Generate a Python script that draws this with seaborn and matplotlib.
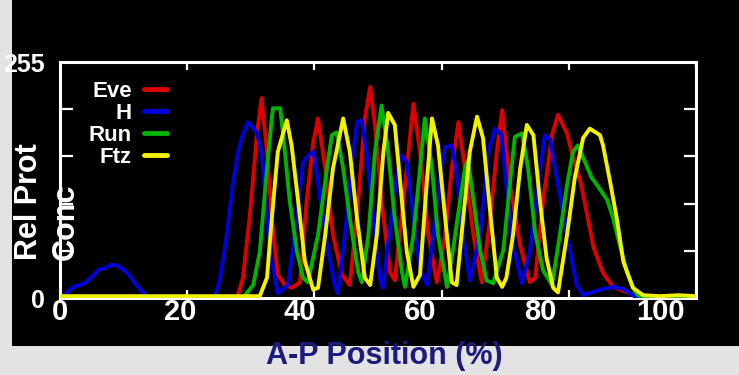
import numpy as np
import pandas as pd
import matplotlib
matplotlib.use('Agg')
import matplotlib.pyplot as plt
from matplotlib.patches import Rectangle
import seaborn as sns

# A-P position (%) and relative protein concentration (0-255)
eve_x = [0, 29.5, 30.5, 31.7, 32.8, 33.6, 34.5, 35.3, 36.3, 37.5, 38.6, 40, 41.1, 42.2, 43,
         44.2, 45.5, 47, 48.3, 49.7, 50.8, 51.7, 52.5, 53.6, 55, 55.8, 57.8, 58.9, 60, 61.4,
         62.8, 64.2, 65.3, 66.4, 67.5, 68.9, 70.3, 71.7, 72.8, 73.7, 75, 76.7, 78.3, 79.2, 80.5,
         82, 83, 84.5, 85.5, 86.7, 87.8, 88.9, 90.5, 92.2, 95, 96.7, 106]
eve_y = [0, 0, 22, 93, 176, 216, 158, 86, 25, 14, 11, 17, 104, 168, 194,
         140, 68, 25, 14, 104, 194, 228, 187, 104, 28, 19, 140, 210, 158, 68,
         17, 68, 140, 190, 140, 68, 17, 86, 158, 203, 122, 57, 17, 22, 104,
         176, 198, 178, 152, 127, 92, 55, 27, 12, 5, 1, 0]

h_x = [0, 0.8, 1.5, 2.5, 3.5, 4.5, 5.5, 6.5, 7.5, 8.5, 9.5, 10.5, 11.5, 12.5, 13.5, 14.5, 15.5,
       25.8, 26.7, 27.8, 28.8, 29.7, 30.3, 31.3, 32.8, 33.6, 35, 36.3, 38, 39.5, 40.5, 41.7,
       42.3, 43.3, 44.5, 45.8, 46.3, 47.8, 48.9, 49.5, 50.3, 51.1, 52.2, 53.3, 53.8, 55.3, 56.1,
       56.9, 57.8, 58.9, 60, 61.2, 62.2, 63.6, 64.2, 65.3, 66.1, 67.2, 68.3, 70, 71.4, 72.5,
       73.6, 74.4, 75.5, 77, 78.3, 79.7, 80.8, 81.7, 82.8, 84.5, 86.1, 87.2, 90, 92.2, 93.8,
       96, 103, 104.5, 106]
h_y = [0, 3, 8, 13, 14, 18, 24, 31, 32, 36, 35, 31, 25, 16, 8, 2, 0,
       0, 22, 68, 122, 158, 173, 190, 179, 158, 50, 5, 14, 86, 147, 156,
       158, 111, 57, 14, 5, 86, 158, 190, 192, 158, 86, 22, 11, 90, 130,
       154, 147, 86, 32, 14, 68, 140, 163, 165, 136, 68, 19, 68, 158, 183,
       176, 122, 57, 16, 50, 122, 176, 171, 130, 68, 14, 3, 9, 12, 10,
       1, 0, 2, 1]

run_x = [0, 30.5, 32.2, 33.3, 34.5, 35.3, 35.5, 36.7, 37.2, 38.3, 39.5, 40.5, 41.3, 43, 44.5,
         45.3, 46.1, 47.2, 48.3, 49.7, 50.3, 51.4, 52.5, 53.6, 54.7, 55.8, 57, 57.5, 58.9, 60,
         60.8, 62, 63, 64.5, 65.5, 66.7, 67.5, 68, 68.9, 70, 71.1, 72.2, 73.9, 75, 75.8,
         77, 78, 79.2, 80.5, 82, 83.3, 84.5, 85.5, 86.3, 87.5, 88.6, 89.5, 91.2, 92.2, 93.3,
         94.5, 95.5, 96.3, 97.5, 106]
run_y = [0, 0, 14, 50, 140, 194, 205, 205, 176, 104, 50, 22, 17, 68, 140,
         176, 179, 140, 86, 28, 17, 68, 158, 208, 158, 86, 28, 12, 68, 140,
         194, 140, 68, 12, 52, 106, 141, 149, 106, 52, 19, 16, 52, 124, 174,
         178, 141, 70, 30, 14, 68, 122, 158, 165, 147, 130, 122, 106, 86, 57,
         28, 11, 3, 0, 0]

ftz_x = [0, 33.3, 34.5, 35.3, 36.3, 37.8, 38.6, 39.7, 40.8, 42.2, 43, 44.2, 45.5, 47.2, 48.3,
         49.5, 50.8, 51.7, 52.8, 53.9, 54.7, 55.8, 57, 57.8, 58.9, 60, 61.1, 62, 63, 64.2,
         65.3, 66.1, 67.2, 68.3, 69.5, 70.5, 71.7, 72.8, 73.7, 74.4, 75.5, 76.7, 77.8, 78.9, 80,
         81.1, 82.2, 83, 84.5, 85.8, 87.2, 88.3, 90, 90.5, 91.7, 92.8, 93.9, 95.5, 97.2, 100,
         103, 106]
ftz_y = [2, 2, 22, 86, 158, 192, 165, 104, 40, 9, 11, 68, 140, 194, 158,
         86, 22, 14, 68, 158, 200, 187, 104, 50, 12, 25, 122, 194, 165, 86,
         17, 14, 86, 158, 196, 173, 93, 22, 12, 22, 68, 140, 187, 176, 104,
         43, 11, 6, 68, 130, 173, 183, 176, 165, 125, 86, 39, 11, 3, 2,
         3, 2]

genes = ['Eve', 'H', 'Run', 'Ftz']
colors = ['#dd0000', '#0000dd', '#00b400', '#f2f200']
x_tick_labels = ['0', '20', '40', '60', '80', '100']
x_label_pos = [0, 20, 40, 60, 80, 100]
y_tick_labels = ['0', '255']
y_label_pos = [0, 255]

df = pd.concat([
    pd.DataFrame({'pos': eve_x, 'conc': eve_y, 'gene': 'Eve'}),
    pd.DataFrame({'pos': h_x, 'conc': h_y, 'gene': 'H'}),
    pd.DataFrame({'pos': run_x, 'conc': run_y, 'gene': 'Run'}),
    pd.DataFrame({'pos': ftz_x, 'conc': ftz_y, 'gene': 'Ftz'}),
], ignore_index=True)

sns.set_theme(style='ticks')
plt.rcParams['font.family'] = ['Liberation Sans', 'DejaVu Sans']
plt.rcParams['font.weight'] = 'bold'
narrow = ['Liberation Sans Narrow', 'Liberation Sans', 'DejaVu Sans']

fig = plt.figure(figsize=(7.39, 3.75), dpi=100, facecolor='#e3e3e3')
# black slide panel
fig.patches.append(Rectangle((12 / 739, 29 / 375), 1, 1, transform=fig.transFigure,
                             facecolor='black', edgecolor='none', zorder=-1))
ax = fig.add_axes([60 / 739, 77 / 375, 636 / 739, 236 / 375])
ax.set_facecolor('black')

sns.lineplot(data=df, x='pos', y='conc', hue='gene', hue_order=genes, palette=colors,
             linewidth=2.8, errorbar=None, legend=False, ax=ax, zorder=3)

ax.set_xlim(0, 106)
ax.set_ylim(0, 255)
for s in ax.spines.values():
    s.set_color('white')
    s.set_linewidth(2.2)

# labels on major ticks (no marks)
ax.set_xticks(x_label_pos)
ax.set_xticklabels(x_tick_labels)
ax.set_yticks(y_label_pos)
ax.set_yticklabels(y_tick_labels)
ax.tick_params(axis='x', which='major', length=0, pad=0, labelcolor='white', labelsize=21)
ax.tick_params(axis='y', which='major', length=0, pad=11, labelcolor='white', labelsize=18)
for t in ax.get_xticklabels():
    t.set_family(narrow)
    t.set_weight('bold')

# tick marks (5 divisions) on minor ticks, pointing inward on every side
ax.set_xticks(np.linspace(0, 106, 6), minor=True)
ax.set_yticks(np.linspace(0, 255, 6), minor=True)
ax.tick_params(which='minor', color='white', width=1.6, direction='in',
               labelbottom=False, labelleft=False)
ax.tick_params(axis='x', which='minor', top=True, bottom=True, length=6)
ax.tick_params(axis='y', which='minor', left=True, right=True, length=9)

leg = ax.legend(ax.lines, genes, loc='upper left', bbox_to_anchor=(0.045, 0.92),
                frameon=False, markerfirst=False, handlelength=1.05, handletextpad=0.55,
                labelspacing=0.05, borderpad=0, borderaxespad=0,
                prop={'size': 16, 'weight': 'bold'}, labelcolor='white')
for h in leg.legend_handles:
    h.set_linewidth(3.5)

ax.set_ylabel('Rel Prot\nConc', color='white', fontsize=22, fontweight='bold',
              linespacing=1.3, multialignment='left')
ax.yaxis.set_label_coords(0.033, 0.41)
ax.set_xlabel('A-P Position (%)', color='#1b1b80', fontsize=22, fontweight='bold')
ax.xaxis.set_label_coords(0.51, -0.245)
ax.xaxis.label.set_va('center')

fig.savefig('out.png', dpi=100, facecolor=fig.get_facecolor())
